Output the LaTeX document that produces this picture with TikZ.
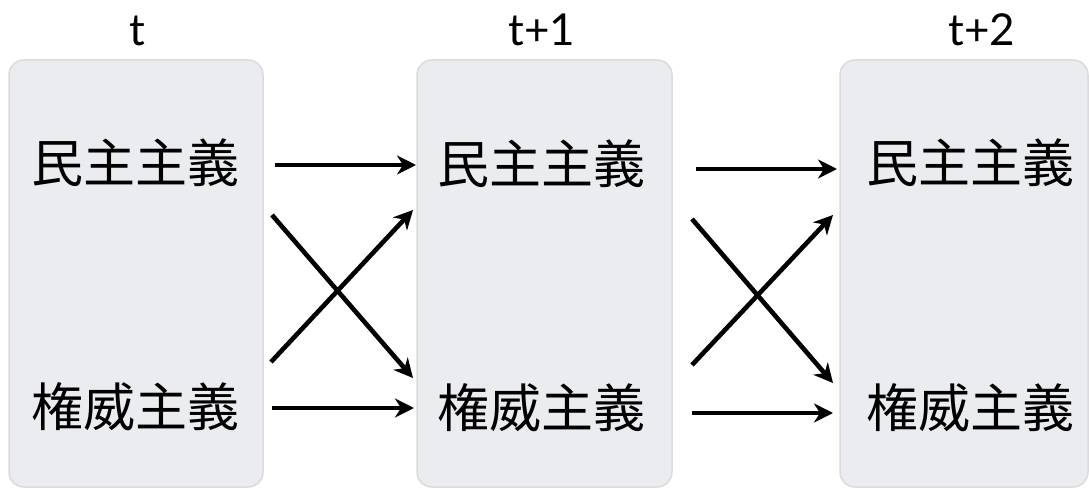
\documentclass[tikz,border=0pt]{standalone}
\usepackage{fontspec}
\setmainfont{Lato}
\newfontfamily\cjk{Noto Sans CJK JP}
\usetikzlibrary{arrows.meta}
\begin{document}
\begin{tikzpicture}[x=1pt,y=-1pt,
  panel/.style={draw=black!14,line width=1.5pt,fill=boxgray,rounded corners=15pt},
  term/.style={font=\cjk\fontsize{52}{60}\selectfont,inner sep=0pt,anchor=center},
  timelabel/.style={font=\fontsize{44}{50}\selectfont,inner sep=0pt,anchor=base},
  flow/.style={line width=4.6pt,-{Stealth[length=19pt,width=19pt,inset=6pt]}}]
\definecolor{boxgray}{HTML}{EBECF0}
\useasboundingbox (0,0) rectangle (1089,489);
% panels
\draw[panel] (9,60) rectangle (263,487);
\draw[panel] (417,60) rectangle (672,487);
\draw[panel] (840,60) rectangle (1088,487);
% time labels
\node[timelabel] (l0) at (137,46) {t};
\node[timelabel] (l1) at (542,46) {t+1};
\node[timelabel] (l2) at (982,46) {t+2};
% terms
\node[term] (d0) at (135,163) {民主主義};
\node[term] (a0) at (135,407) {権威主義};
\node[term] (d1) at (541,164) {民主主義};
\node[term] (a1) at (541,408) {権威主義};
\node[term] (d2) at (970,163) {民主主義};
\node[term] (a2) at (970,408) {権威主義};
% arrow end points
\coordinate (s1) at (275,165); \coordinate (e1) at (416,165);
\coordinate (s2) at (272,215); \coordinate (e2) at (413,378);
\coordinate (s3) at (271,362); \coordinate (e3) at (413,210);
\coordinate (s4) at (272,408); \coordinate (e4) at (414,408);
\coordinate (s5) at (696,169); \coordinate (e5) at (837,169);
\coordinate (s6) at (692,219); \coordinate (e6) at (833,383);
\coordinate (s7) at (692,365); \coordinate (e7) at (833,215);
\coordinate (s8) at (692,413); \coordinate (e8) at (833,413);
\draw[flow] (s1) -- (e1);
\draw[flow] (s2) -- (e2);
\draw[flow] (s3) -- (e3);
\draw[flow] (s4) -- (e4);
\draw[flow] (s5) -- (e5);
\draw[flow] (s6) -- (e6);
\draw[flow] (s7) -- (e7);
\draw[flow] (s8) -- (e8);
\end{tikzpicture}
\end{document}
